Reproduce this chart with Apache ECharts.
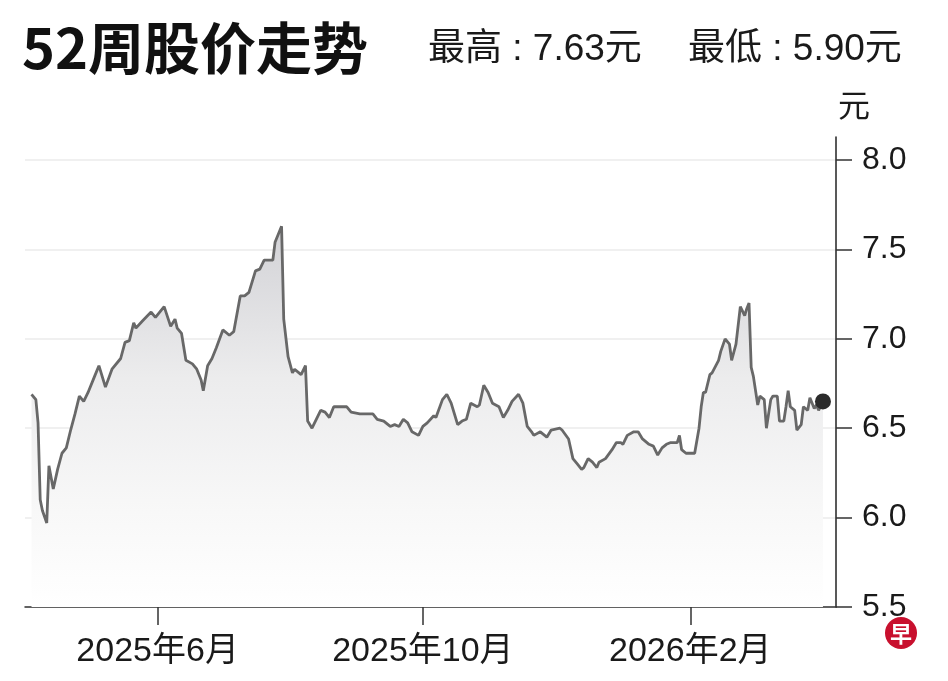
<!DOCTYPE html>
<html>
<head>
<meta charset="utf-8">
<script src="https://cdn.jsdelivr.net/npm/echarts@6/dist/echarts.min.js"></script>
<style>
  html, body { margin: 0; padding: 0; background: #fff; }
  #main { width: 948px; height: 681px; }
</style>
</head>
<body>
<div id="main"></div>
<script>
var dates = [
  '2025-04-04', '2025-04-06', '2025-04-07', '2025-04-08', '2025-04-09', '2025-04-11', '2025-04-12', '2025-04-14',
  '2025-04-16', '2025-04-18', '2025-04-20', '2025-04-22', '2025-04-24', '2025-04-26', '2025-04-28', '2025-04-30',
  '2025-05-03', '2025-05-05', '2025-05-08', '2025-05-11', '2025-05-15', '2025-05-17', '2025-05-19', '2025-05-21',
  '2025-05-22', '2025-05-25', '2025-05-29', '2025-05-31', '2025-06-04', '2025-06-07', '2025-06-09', '2025-06-10',
  '2025-06-12', '2025-06-14', '2025-06-17', '2025-06-19', '2025-06-21', '2025-06-22', '2025-06-24', '2025-06-26',
  '2025-06-28', '2025-07-01', '2025-07-04', '2025-07-06', '2025-07-09', '2025-07-11', '2025-07-13', '2025-07-16',
  '2025-07-18', '2025-07-20', '2025-07-24', '2025-07-25', '2025-07-28', '2025-07-29', '2025-07-31', '2025-08-02',
  '2025-08-03', '2025-08-05', '2025-08-06', '2025-08-08', '2025-08-09', '2025-08-11', '2025-08-15', '2025-08-17',
  '2025-08-19', '2025-08-21', '2025-08-23', '2025-08-27', '2025-08-29', '2025-09-02', '2025-09-06', '2025-09-08',
  '2025-09-10', '2025-09-13', '2025-09-16', '2025-09-18', '2025-09-20', '2025-09-22', '2025-09-24', '2025-09-26',
  '2025-09-29', '2025-10-01', '2025-10-03', '2025-10-06', '2025-10-07', '2025-10-10', '2025-10-12', '2025-10-14',
  '2025-10-17', '2025-10-19', '2025-10-21', '2025-10-23', '2025-10-26', '2025-10-27', '2025-10-29', '2025-10-31',
  '2025-11-02', '2025-11-05', '2025-11-07', '2025-11-09', '2025-11-11', '2025-11-14', '2025-11-16', '2025-11-18',
  '2025-11-20', '2025-11-21', '2025-11-24', '2025-11-27', '2025-11-29', '2025-12-03', '2025-12-04', '2025-12-07',
  '2025-12-09', '2025-12-11', '2025-12-13', '2025-12-14', '2025-12-16', '2025-12-18', '2025-12-20', '2025-12-21',
  '2025-12-24', '2025-12-27', '2025-12-29', '2025-12-31', '2026-01-01', '2026-01-03', '2026-01-06', '2026-01-08',
  '2026-01-10', '2026-01-13', '2026-01-15', '2026-01-17', '2026-01-19', '2026-01-21', '2026-01-23', '2026-01-26',
  '2026-01-27', '2026-01-28', '2026-01-30', '2026-02-02', '2026-02-03', '2026-02-05', '2026-02-06', '2026-02-07',
  '2026-02-08', '2026-02-10', '2026-02-11', '2026-02-14', '2026-02-15', '2026-02-17', '2026-02-19', '2026-02-20',
  '2026-02-22', '2026-02-24', '2026-02-26', '2026-02-27', '2026-02-28', '2026-03-01', '2026-03-02', '2026-03-04',
  '2026-03-05', '2026-03-07', '2026-03-08', '2026-03-10', '2026-03-11', '2026-03-13', '2026-03-14', '2026-03-16',
  '2026-03-17', '2026-03-18', '2026-03-19', '2026-03-21', '2026-03-22', '2026-03-24', '2026-03-25', '2026-03-27',
  '2026-03-28', '2026-03-30', '2026-03-31', '2026-04-01', '2026-04-03'
];
var prices = [
  6.69, 6.66, 6.53, 6.10, 6.04, 5.97, 6.29, 6.16,
  6.27, 6.36, 6.39, 6.49, 6.58, 6.68, 6.65, 6.70,
  6.79, 6.85, 6.73, 6.83, 6.89, 6.98, 6.99, 7.09,
  7.06, 7.10, 7.15, 7.12, 7.18, 7.07, 7.11, 7.06,
  7.03, 6.88, 6.86, 6.83, 6.77, 6.71, 6.85, 6.89,
  6.95, 7.05, 7.02, 7.04, 7.24, 7.24, 7.26, 7.38,
  7.39, 7.44, 7.44, 7.54, 7.63, 7.11, 6.90, 6.81,
  6.83, 6.81, 6.80, 6.85, 6.54, 6.50, 6.60, 6.59,
  6.56, 6.62, 6.62, 6.62, 6.59, 6.58, 6.58, 6.58,
  6.55, 6.54, 6.51, 6.52, 6.51, 6.55, 6.53, 6.48,
  6.46, 6.51, 6.53, 6.57, 6.56, 6.66, 6.69, 6.64,
  6.52, 6.54, 6.55, 6.64, 6.62, 6.63, 6.74, 6.70,
  6.64, 6.62, 6.56, 6.60, 6.65, 6.69, 6.64, 6.51,
  6.48, 6.46, 6.48, 6.45, 6.49, 6.50, 6.49, 6.44,
  6.33, 6.30, 6.27, 6.28, 6.33, 6.31, 6.28, 6.31,
  6.33, 6.38, 6.42, 6.42, 6.41, 6.46, 6.48, 6.48,
  6.44, 6.41, 6.40, 6.35, 6.39, 6.41, 6.42, 6.42,
  6.46, 6.38, 6.36, 6.36, 6.36, 6.50, 6.62, 6.70,
  6.70, 6.80, 6.81, 6.88, 6.93, 7.00, 6.97, 6.88,
  6.97, 7.18, 7.13, 7.17, 7.20, 6.84, 6.79, 6.63,
  6.68, 6.66, 6.50, 6.66, 6.68, 6.68, 6.54, 6.54,
  6.62, 6.71, 6.62, 6.60, 6.49, 6.52, 6.62, 6.60,
  6.67, 6.61, 6.63, 6.60, 6.65
];
var xTickDates = ['2025-06-01', '2025-10-01', '2026-02-01'];
var xTickLabels = ['2025年6月', '2025年10月', '2026年2月'];
var xRange = ['2025-04-01', '2026-04-09'];
var yTicks = [5.5, 6.0, 6.5, 7.0, 7.5, 8.0];

var titleText = '52周股价走势';
var highText = '最高 : 7.63元';
var lowText = '最低 : 5.90元';
var unitText = '元';

var FONT = '"Liberation Sans Narrow", "Liberation Sans", "Noto Sans CJK SC", sans-serif';

function toTime(s) {
  var p = s.split('-');
  return new Date(+p[0], +p[1] - 1, +p[2]).getTime();
}

var seriesData = dates.map(function (d, i) {
  return [toTime(d), prices[i]];
});
var lastPoint = seriesData[seriesData.length - 1];
var xTickValues = xTickDates.map(toTime);

var myChart = echarts.init(document.getElementById('main'), null, { renderer: 'canvas' });

var option = {
  backgroundColor: '#fff',
  animation: false,
  grid: {
    left: 25,
    right: 112,
    top: 137,
    bottom: 74
  },
  xAxis: {
    type: 'value',
    min: toTime(xRange[0]),
    max: toTime(xRange[1]),
    axisLine: { show: true, onZero: false, lineStyle: { color: '#333', width: 1.5 } },
    axisTick: {
      show: true,
      length: 18,
      customValues: xTickValues,
      lineStyle: { color: '#333', width: 1.5 }
    },
    axisLabel: {
      customValues: xTickValues,
      margin: 28,
      color: '#1a1a1a',
      fontSize: 34,
      fontFamily: FONT,
      formatter: function (val) {
        var i = xTickValues.indexOf(val);
        return i >= 0 ? xTickLabels[i] : '';
      }
    },
    splitLine: { show: false }
  },
  yAxis: {
    type: 'value',
    position: 'right',
    min: 5.5,
    max: 8.129,
    axisLine: { show: true, lineStyle: { color: '#222', width: 1.5 } },
    axisTick: {
      show: true,
      length: 16,
      customValues: yTicks,
      lineStyle: { color: '#333', width: 1.5 }
    },
    axisLabel: {
      customValues: yTicks,
      margin: 26,
      color: '#1a1a1a',
      fontSize: 32,
      fontFamily: FONT,
      formatter: function (v) { return v.toFixed(1); }
    },
    splitLine: { show: true, lineStyle: { color: '#f0f0f0', width: 2 } }
  },
  series: [
    {
      type: 'line',
      data: seriesData,
      symbol: 'none',
      lineStyle: { color: '#686868', width: 2.8 },
      areaStyle: {
        origin: 'start',
        opacity: 1,
        color: new echarts.graphic.LinearGradient(0, 0, 0, 1, [
          { offset: 0, color: '#d2d2d6' },
          { offset: 0.4, color: '#ececed' },
          { offset: 0.75, color: '#f8f8f8' },
          { offset: 1, color: '#ffffff' }
        ])
      },
      z: 3
    },
    {
      type: 'scatter',
      data: [lastPoint],
      symbolSize: 16,
      itemStyle: { color: '#2b2b2b', opacity: 1 },
      z: 5
    }
  ],
  graphic: [
    {
      type: 'text', left: 22, top: 20,
      style: { text: titleText, fontSize: 56, fontWeight: 'bold', fill: '#111', fontFamily: '"Noto Sans CJK SC", sans-serif' }
    },
    {
      type: 'text', left: 428, top: 31,
      style: { text: highText, fontSize: 37, fill: '#1a1a1a', fontFamily: FONT }
    },
    {
      type: 'text', left: 688, top: 31,
      style: { text: lowText, fontSize: 37, fill: '#1a1a1a', fontFamily: FONT }
    },
    {
      type: 'text', left: 838, top: 92,
      style: { text: unitText, fontSize: 32, fill: '#1a1a1a', fontFamily: FONT }
    },
    {
      type: 'group', left: 885, top: 617,
      children: [
        { type: 'circle', shape: { cx: 16, cy: 16, r: 16 }, style: { fill: '#c8102e' } },
        {
          type: 'text', x: 16, y: 17,
          style: { text: '早', fontSize: 22, fontWeight: 'bold', fill: '#fff', align: 'center', verticalAlign: 'middle', fontFamily: '"Noto Sans CJK SC", sans-serif' }
        }
      ]
    }
  ]
};

myChart.setOption(option);
window.addEventListener('resize', function () {
  myChart.resize();
});
</script>
</body>
</html>
